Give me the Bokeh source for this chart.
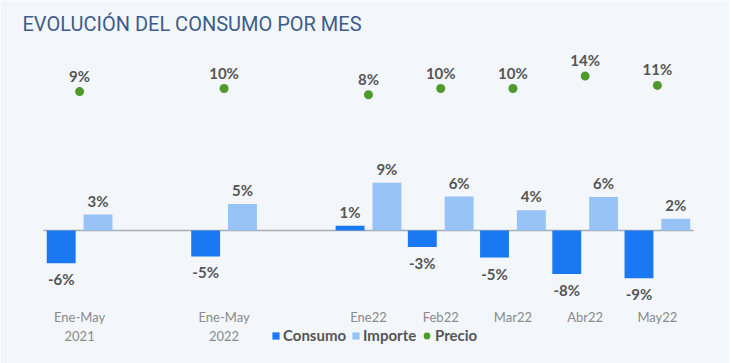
from bokeh.plotting import figure
from bokeh.models import (ColumnDataSource, Range1d, Label, Legend, LegendItem)
from bokeh.core.properties import value
from bokeh.embed import file_html
from bokeh.resources import INLINE
import numpy as np

# ---- data ----
categories = ["Ene-May\n2021", "Ene-May\n2022", "Ene22", "Feb22", "Mar22", "Abr22", "May22"]
xpos = [0, 2, 4, 5, 6, 7, 8]
consumo = [-6.2, -4.9, 0.9, -3.1, -5.1, -8.2, -9.0]
importe = [3.0, 5.0, 9.0, 6.4, 3.8, 6.3, 2.2]
precio = [9, 10, 8, 10, 10, 14, 11]

BG = "#f3f7fb"
C_CONS = "#1a78f2"
C_IMP = "#97c3f7"
C_PRE = "#4e9a2a"
TXT = "#555555"

W, H = 729, 363
x = np.array(xpos, dtype=float)
cons = np.array(consumo)
imp = np.array(importe)
pre = np.array(precio)

src_c = ColumnDataSource(dict(x=x - 0.255, y=cons, lbl=[f"{round(v):d}%" for v in cons],
                              off=np.where(cons >= 0, -14, 16)))
src_i = ColumnDataSource(dict(x=x + 0.255, y=imp, lbl=[f"{round(v):d}%" for v in imp],
                              off=np.where(imp >= 0, -14, 16)))
src_p = ColumnDataSource(dict(x=x, y=pre, lbl=[f"{v:d}%" for v in pre]))
src_cat = ColumnDataSource(dict(x=x, lbl=categories))

# scales: x unit 72.22px, zero line at y=230px, 5.3px per % for bars, price 3.1px per % (zero at 119px)
ux = 650 / 9
p = figure(width=W, height=H, output_backend="svg", toolbar_location=None,
           x_range=Range1d(-0.5 - 43 / ux, -0.5 + (W - 43) / ux),
           y_range=Range1d(-(H - 230) / 5.3, 230 / 5.3),
           x_axis_location=None, y_axis_location=None, min_border=0,
           background_fill_color=BG, border_fill_color=BG, outline_line_color=None)
p.grid.visible = False
p.extra_y_ranges = {"precio": Range1d(-(H - 119) / 3.1, 119 / 3.1)}

p.segment(x0=[-0.5], x1=[8.5], y0=[0], y1=[0], line_color="#a8adb3", line_width=1.5)

r_c = p.vbar(x="x", top="y", width=0.4, source=src_c, fill_color=C_CONS, line_color=None)
r_i = p.vbar(x="x", top="y", width=0.4, source=src_i, fill_color=C_IMP, line_color=None)
r_p = p.scatter(x="x", y="y", size=9, source=src_p, fill_color=C_PRE, line_color=None,
                y_range_name="precio")

lab_kw = dict(text="lbl", text_align="center", text_baseline="middle",
              text_font=value("Lato"), text_font_size="15px", text_font_style="bold",
              text_color=TXT)
p.text(x="x", y="y", y_offset="off", source=src_c, **lab_kw)
p.text(x="x", y="y", y_offset="off", source=src_i, **lab_kw)
p.text(x="x", y="y", y_offset=-16, source=src_p, y_range_name="precio", **lab_kw)

# category labels (x axis)
p.text(x="x", y=-(308 - 230) / 5.3, text="lbl", source=src_cat, text_align="center",
       text_baseline="top", text_font=value("Lato"), text_font_size="13px",
       text_color="#8a8a8a", text_line_height=1.2)

p.add_layout(Label(x=22, y=H - 23, x_units="screen", y_units="screen",
                   text="EVOLUCIÓN DEL CONSUMO POR MES", text_font="Roboto",
                   text_font_size="20px", text_color="#3d5c8c", text_baseline="alphabetic"))

leg_kw = dict(orientation="horizontal", background_fill_alpha=0, border_line_color=None,
              padding=0, margin=0, label_text_font="Lato", label_text_font_size="15px",
              label_text_font_style="bold", label_text_color=TXT)
p.add_layout(Legend(items=[LegendItem(label="Consumo", renderers=[r_c])], location=(271, 19),
                    glyph_width=9, glyph_height=9, label_standoff=3, **leg_kw), "center")
p.add_layout(Legend(items=[LegendItem(label="Importe", renderers=[r_i])], location=(351, 19),
                    glyph_width=9, glyph_height=9, label_standoff=3, **leg_kw), "center")
p.add_layout(Legend(items=[LegendItem(label="Precio", renderers=[r_p])], location=(418, 19),
                    glyph_width=17, glyph_height=17, label_standoff=0, **leg_kw), "center")

html = file_html(p, INLINE)
html = html.replace("<body>", '<body style="background:#2b2b2b">', 1)
open("out.html", "w").write(html)
